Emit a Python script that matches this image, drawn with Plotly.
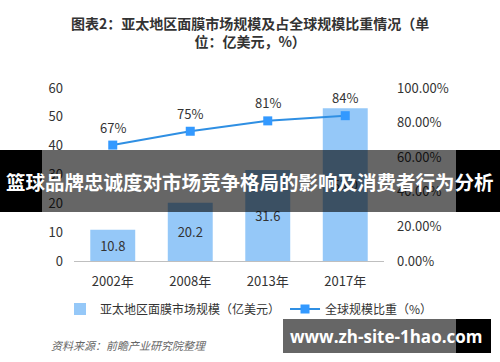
import plotly.graph_objects as go

categories = ["2002年", "2008年", "2013年", "2017年"]
market_size = [10.8, 20.2, 31.6, 53.0]
global_share = [0.67, 0.75, 0.81, 0.84]
share_labels = ["67%", "75%", "81%", "84%"]
left_ticks = [0, 10, 20, 30, 40, 50, 60]
right_ticks = [0, 0.2, 0.4, 0.6, 0.8, 1.0]

FONT = "Noto Sans CJK SC, Microsoft YaHei, sans-serif"
TXT = "#333333"


def py(pix):
    # pixel y (from top) -> paper coords for plot area 88..261
    return (261 - pix) / (261 - 88)


def px(pix):
    # pixel x -> paper coords for plot area 74..384
    return (pix - 74) / (384 - 74)


fig = go.Figure()
fig.add_trace(go.Bar(
    x=categories, y=market_size, name="亚太地区面膜市场规模（亿美元）",
    marker=dict(color="#95C8F8", line=dict(width=0)),
    text=[f"{v:.1f}" for v in market_size], textposition="inside",
    insidetextanchor="middle", textangle=0,
    insidetextfont=dict(color=TXT, size=13, family=FONT),
    hoverinfo="skip",
))
fig.add_trace(go.Scatter(
    x=categories, y=global_share, name="全球规模比重（%）", yaxis="y2",
    mode="lines+markers",
    line=dict(color="#2F8FE3", width=2),
    marker=dict(symbol="square", size=9, color="#3399FF"),
    hoverinfo="skip",
))

annotations = []
for c, v, t in zip(categories, global_share, share_labels):
    annotations.append(dict(x=c, y=v, xref="x", yref="y2", text=t, showarrow=False,
                            yshift=18, font=dict(size=13, color=TXT, family=FONT)))

annotations.append(dict(
    x=px(250), y=py(32), xref="paper", yref="paper", xanchor="center", yanchor="middle",
    text="<b>图表2：亚太地区面膜市场规模及占全球规模比重情况（单<br>位：亿美元，%）</b>",
    showarrow=False, align="center", font=dict(size=14, color=TXT, family=FONT)))
annotations.append(dict(
    x=px(49), y=py(345), xref="paper", yref="paper", xanchor="left", yanchor="middle",
    text="<i>资料来源：前瞻产业研究院整理</i>", showarrow=False,
    font=dict(size=11, color="#666666", family=FONT)))
annotations.append(dict(
    x=px(250), y=py(181), xref="paper", yref="paper", xanchor="center", yanchor="middle",
    text="<b>篮球品牌忠诚度对市场竞争格局的影响及消费者行为分析</b>", showarrow=False,
    font=dict(size=19.5, color="white", family=FONT)))
annotations.append(dict(
    x=px(386), y=py(336), xref="paper", yref="paper", xanchor="center", yanchor="middle",
    text="<b>www.zh-site-1hao.com</b>", showarrow=False,
    font=dict(size=17, color="white", family="Open Sans, DejaVu Sans, sans-serif")))

shapes = [
    dict(type="rect", xref="paper", yref="paper", x0=px(0), x1=px(42), y0=py(212), y1=py(150),
         fillcolor="black", line=dict(width=0), layer="above"),
    dict(type="rect", xref="paper", yref="paper", x0=px(42), x1=px(456), y0=py(212), y1=py(150),
         fillcolor="rgba(0,0,0,0.6)", line=dict(width=0), layer="above"),
    dict(type="rect", xref="paper", yref="paper", x0=px(456), x1=px(500), y0=py(212), y1=py(150),
         fillcolor="black", line=dict(width=0), layer="above"),
    dict(type="rect", xref="paper", yref="paper", x0=px(283), x1=px(456), y0=py(353), y1=py(319),
         fillcolor="rgba(0,0,0,0.6)", line=dict(width=0), layer="above"),
    dict(type="rect", xref="paper", yref="paper", x0=px(456), x1=px(491), y0=py(353), y1=py(319),
         fillcolor="black", line=dict(width=0), layer="above"),
]

fig.update_layout(
    width=500, height=362,
    margin=dict(l=74, r=116, t=88, b=101, pad=0, autoexpand=False),
    paper_bgcolor="white", plot_bgcolor="white",
    font=dict(family=FONT, color=TXT, size=13),
    bargap=0.42,
    showlegend=True,
    legend=dict(orientation="h", xref="paper", yref="paper", x=px(60), xanchor="left",
                y=py(309), yanchor="middle",
                font=dict(size=12, color=TXT, family=FONT), itemwidth=30,
                bgcolor="rgba(0,0,0,0)", traceorder="normal"),
    xaxis=dict(showline=True, linecolor="#BFBFBF", linewidth=1, ticks="", showgrid=False,
               tickfont=dict(size=13, color=TXT), ticklabelstandoff=8, fixedrange=True),
    yaxis=dict(range=[0, 60], tickvals=left_ticks, showgrid=False, zeroline=False,
               showline=False, ticks="", tickfont=dict(size=13, color=TXT),
               ticklabelstandoff=10),
    yaxis2=dict(range=[0, 1], tickvals=right_ticks, tickformat=".2%", overlaying="y",
                side="right", showgrid=False, zeroline=False, showline=False, ticks="",
                tickfont=dict(size=13, color=TXT), ticklabelstandoff=12),
    annotations=annotations,
    shapes=shapes,
)

fig.write_html("out.html", config={"displayModeBar": False},
               post_script="document.body.style.margin='0';")
